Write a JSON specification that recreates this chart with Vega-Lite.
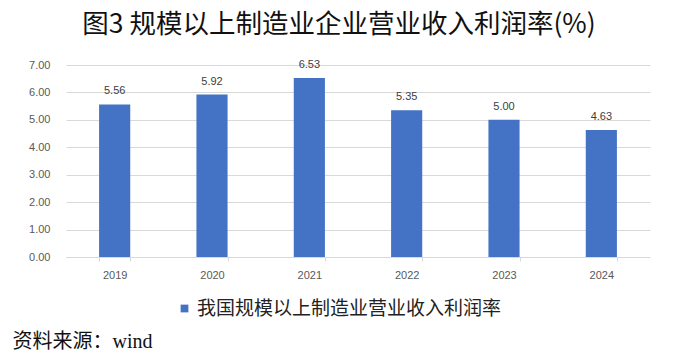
{
  "$schema": "https://vega.github.io/schema/vega-lite/v6.json",
  "width": 584,
  "height": 192,
  "autosize": {"type": "none"},
  "padding": {"left": 66, "top": 65, "right": 33, "bottom": 103},
  "background": "white",
  "title": {
    "text": "图3 规模以上制造业企业营业收入利润率(%)",
    "font": "Noto Sans CJK SC",
    "fontSize": 26.5,
    "fontWeight": "normal",
    "color": "#111111",
    "anchor": "middle",
    "frame": "bounds",
    "dx": 8,
    "offset": 20
  },
  "data": {
    "values": [
      {"year": "2019", "rate": 5.56, "series": "我国规模以上制造业营业收入利润率"},
      {"year": "2020", "rate": 5.92, "series": "我国规模以上制造业营业收入利润率"},
      {"year": "2021", "rate": 6.53, "series": "我国规模以上制造业营业收入利润率"},
      {"year": "2022", "rate": 5.35, "series": "我国规模以上制造业营业收入利润率"},
      {"year": "2023", "rate": 5.00, "series": "我国规模以上制造业营业收入利润率"},
      {"year": "2024", "rate": 4.63, "series": "我国规模以上制造业营业收入利润率"}
    ]
  },
  "encoding": {
    "x": {
      "field": "year",
      "type": "ordinal",
      "scale": {"paddingInner": 0.68, "paddingOuter": 0.34},
      "axis": {
        "title": "资料来源：wind",
        "titleFont": "Liberation Serif, Noto Sans CJK SC",
        "titleFontSize": 20,
        "titleFontWeight": "normal",
        "titleColor": "#111111",
        "titleAlign": "left",
        "titleBaseline": "middle",
        "titleX": -54,
        "titleY": 84,
        "labelAngle": 0,
        "labelFont": "Liberation Sans",
        "labelFontSize": 11,
        "labelColor": "#595959",
        "labelPadding": 8,
        "domainColor": "#d9d9d9",
        "ticks": true,
        "tickBand": "extent",
        "tickColor": "#d9d9d9",
        "tickSize": 4,
        "grid": false
      }
    },
    "y": {
      "field": "rate",
      "type": "quantitative",
      "scale": {"domain": [0, 7]},
      "axis": {
        "title": null,
        "values": [0, 1, 2, 3, 4, 5, 6, 7],
        "format": ".2f",
        "domain": false,
        "ticks": false,
        "labelFont": "Liberation Sans",
        "labelFontSize": 11,
        "labelColor": "#595959",
        "labelPadding": 16,
        "gridColor": "#d9d9d9",
        "gridWidth": 1
      }
    }
  },
  "layer": [
    {
      "mark": {"type": "bar"},
      "encoding": {
        "color": {
          "field": "series",
          "type": "nominal",
          "scale": {"range": ["#4472C4"]},
          "legend": {
            "title": null,
            "orient": "none",
            "legendX": 109,
            "legendY": 234,
            "direction": "horizontal",
            "symbolType": "square",
            "symbolSize": 60,
            "symbolStrokeWidth": 0,
            "labelFont": "Noto Sans CJK SC",
            "labelFontSize": 19,
            "labelColor": "#222222",
            "labelOffset": 3,
            "labelLimit": 0
          }
        }
      }
    },
    {
      "mark": {
        "type": "text",
        "dy": -8,
        "baseline": "bottom",
        "font": "Liberation Sans",
        "fontSize": 11,
        "color": "#404040"
      },
      "encoding": {
        "text": {"field": "rate", "type": "quantitative", "format": ".2f"}
      }
    }
  ],
  "config": {"view": {"stroke": null}}
}
